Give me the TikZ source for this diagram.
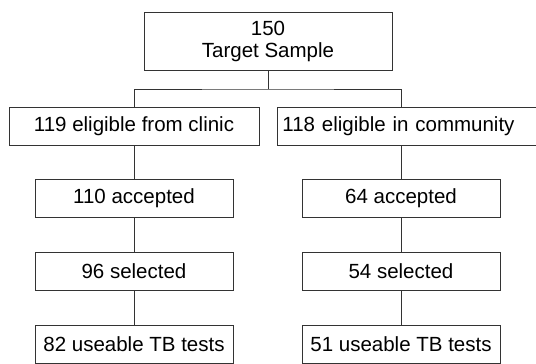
\documentclass[tikz,border=0pt]{standalone}
\usepackage{fontspec}
\setmainfont{Liberation Sans}
\usetikzlibrary{positioning}

\begin{document}
\begin{tikzpicture}[x=1pt,y=-1pt,line width=0.9pt,
    box/.style={draw=black!80,fill=white,font=\fontsize{20.5}{22}\selectfont,inner sep=2pt,minimum height=38pt},
    wide box/.style={box,minimum width=250pt},
    small box/.style={box,minimum width=198pt},
    link/.style={-,draw=black!80}]
   \useasboundingbox (0,0) rectangle (536,364);
   \begin{scope}
     \node[box,minimum width=248pt,minimum height=58pt,align=center] (top) at (268,41) {150\\Target Sample};
     \node[wide box] (eligL) at (134,126) {119 eligible from clinic};
     \node[box,anchor=west,text width=252pt,inner xsep=5pt,align=left] (eligR) at (277,126) {118 eligible in community};
     \node[small box] (accL) at (134,198) {110 accepted};
     \node[small box] (accR) at (401,198) {64 accepted};
     \node[small box] (selL) at (134,271.5) {96 selected};
     \node[small box] (selR) at (401,271.5) {54 selected};
     \node[small box] (useL) at (134,344.5) {82 useable TB tests};
     \node[small box] (useR) at (401,344.5) {51 useable TB tests};
     \coordinate (split) at (268,89);
      \path[link] (top) edge (split);
      \draw[link] (eligL.north -| accL) |- (split) -| (eligR.north -| accR);
      \path[link] (eligL.south -| accL) edge (accL);
      \path[link] (eligR.south -| accR) edge (accR);
      \path[link] (accL) edge (selL);
      \path[link] (accR) edge (selR);
      \path[link] (selL) edge (useL);
      \path[link] (selR) edge (useR);
   \end{scope}
\end{tikzpicture}
\end{document}
